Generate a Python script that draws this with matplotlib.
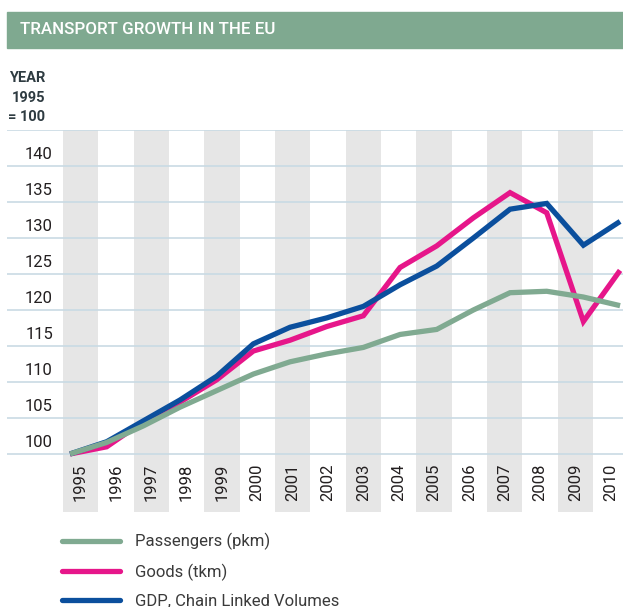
import numpy as np
import matplotlib.pyplot as plt
from matplotlib.patches import Rectangle

years = list(range(1995, 2011))
passengers = [100, 101.6, 103.9, 106.5, 108.8, 111.1, 112.8, 113.9, 114.8,
              116.6, 117.3, 120.0, 122.4, 122.6, 121.8, 120.6]
goods = [100, 101.0, 104.5, 107.2, 110.3, 114.3, 115.8, 117.7, 119.2,
         125.9, 128.9, 132.8, 136.3, 133.5, 118.4, 125.5]
gdp = [100, 101.7, 104.6, 107.5, 110.8, 115.3, 117.6, 118.9, 120.5,
       123.5, 126.1, 130.0, 134.0, 134.8, 129.0, 132.3]
y_ticks = [100, 105, 110, 115, 120, 125, 130, 135, 140]
series_names = ['Passengers (pkm)', 'Goods (tkm)', 'GDP, Chain Linked Volumes']

green = '#80aa91'
pink = '#e6168a'
blue = '#0b4f9d'
dark = '#231f20'

plt.rcParams['font.family'] = ['Roboto', 'DejaVu Sans']

W, H = 623, 607
fig = plt.figure(figsize=(W / 100, H / 100), dpi=100)

# header bar
fig.patches.append(Rectangle((7 / W, 1 - 48 / H), 616 / W, 36 / H,
                             transform=fig.transFigure, color='#7fa990', zorder=0))
fig.text(20 / W, 1 - 30 / H, 'TRANSPORT GROWTH IN THE EU', color='white',
         fontsize=12.2, fontweight='medium', va='center', ha='left')

for i, t in enumerate(['YEAR', '1995', '= 100']):
    fig.text(45 / W, 1 - (78 + i * 19.5) / H, t, color='#2e3b41', fontsize=10.5,
             fontweight='bold', ha='right', va='center')

# band axis (one column per year)
ax = fig.add_axes([7 / W, 1 - 512 / H, 616 / W, (512 - 130) / H])
ax.set_xlim(-2.079, 15.347)
ax.set_ylim(91.94, 145)
for k in range(0, len(years), 2):
    ax.axvspan(k - 0.5, k + 0.5, color='#e6e6e6', lw=0, zorder=0)
for v in y_ticks + [145]:
    ax.axhline(v, color='#c9dae4', lw=1.2, zorder=1)
for v in y_ticks:
    ax.text((53 - 7) / 616, v + 1.6, str(v), transform=ax.get_yaxis_transform(),
            ha='right', va='center', fontsize=12, color=dark)
for k, yr in enumerate(years):
    ax.text(k, 96.1, str(yr), rotation=90, ha='center', va='center',
            fontsize=12, color=dark)
ax.axis('off')

# line axis
ax2 = ax.twiny()
ax2.set_xlim(1993.282, 2010.08)
ax2.plot(years, goods, color=pink, lw=3.8, solid_joinstyle='miter',
         solid_capstyle='butt', zorder=3, label=series_names[1])
ax2.plot(years, gdp, color=blue, lw=3.8, solid_joinstyle='miter',
         solid_capstyle='butt', zorder=4, label=series_names[2])
ax2.plot(years, passengers, color=green, lw=3.8, solid_joinstyle='miter',
         solid_capstyle='butt', zorder=5, label=series_names[0])
ax2.axis('off')

handles, labels = ax2.get_legend_handles_labels()
order = [2, 0, 1]
leg = fig.legend([handles[i] for i in order], [labels[i] for i in order],
                 loc='upper left', bbox_to_anchor=(62 / W, 1 - 533 / H),
                 frameon=False, fontsize=12, handlelength=3.5, handletextpad=0.9,
                 labelspacing=0.8, borderpad=0, borderaxespad=0)
for t in leg.get_texts():
    t.set_color('#3a3a3a')
for h in leg.legend_handles:
    h.set_solid_capstyle('round')

fig.savefig('out.png', dpi=100)
